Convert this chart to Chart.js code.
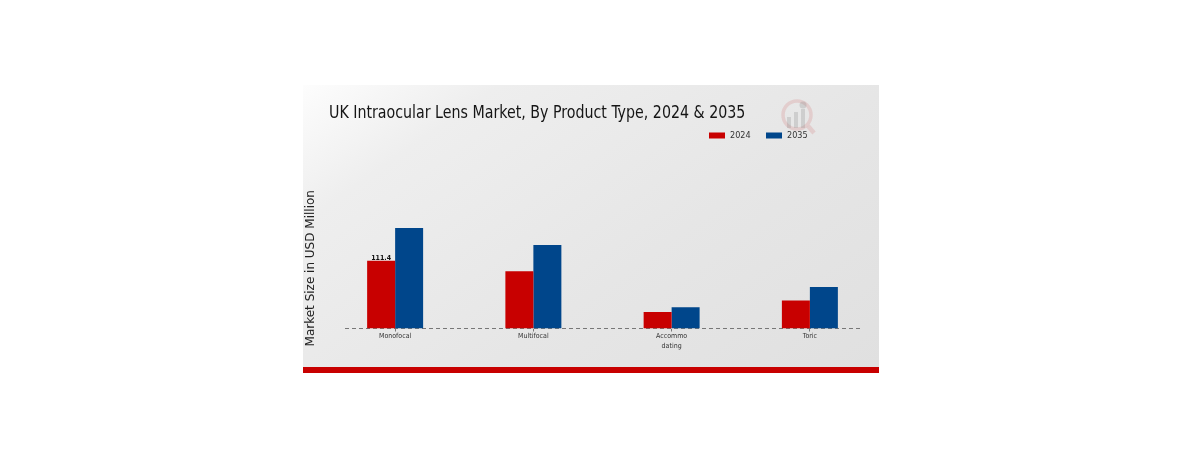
<!DOCTYPE html>
<html>
<head>
<meta charset="utf-8">
<title>UK Intraocular Lens Market</title>
<script src="https://cdn.jsdelivr.net/npm/chart.js@4"></script>
<style>
    html, body { margin: 0; padding: 0; background: #fff; }
    #panel {
        position: absolute; left: 303px; top: 85px; width: 576px; height: 282px;
        background: linear-gradient(145deg, #fdfdfd 0%, #eeeeee 20%, #e6e6e6 60%, #e0e0e0 100%);
        border-bottom: 6px solid #c80000;
    }
    #chart { display: block; filter: blur(0.5px); }
</style>
</head>
<body>
<div id="panel"><canvas id="chart" width="576" height="282"></canvas></div>
<script>
const categories = [['Monofocal'], ['Multifocal'], ['Accommo', 'dating'], ['Toric']];
const years = ['2024', '2035'];
const values2024 = [111.4, 94, 27, 46];
const values2035 = [165, 137, 35, 68];
const seriesColors = ['#c80000', '#00468b'];
const chartTitle = 'UK Intraocular Lens Market, By Product Type, 2024 & 2035';
const yTitle = 'Market Size in USD Million';
const condensed = '"DejaVu Sans Condensed", "DejaVu Sans", sans-serif';

// title, legend, logo and dashed baseline sit where the layout box would not put them
const extras = {
    id: 'extras',
    beforeDatasetsDraw(chart) {
        const ctx = chart.ctx;
        const y0 = chart.scales.y.getPixelForValue(0);

        // faint logo behind everything
        ctx.save();
        ctx.strokeStyle = 'rgba(200,60,60,0.15)';
        ctx.lineWidth = 3.5;
        ctx.beginPath();
        ctx.arc(494, 30, 14, 0, Math.PI * 2);
        ctx.stroke();
        ctx.lineWidth = 4.5;
        ctx.beginPath();
        ctx.moveTo(505, 41);
        ctx.lineTo(511, 48);
        ctx.stroke();
        ctx.fillStyle = 'rgba(130,130,130,0.25)';
        ctx.fillRect(484, 32, 4, 11);
        ctx.fillRect(491, 27, 4, 16);
        ctx.fillRect(498, 24, 4, 19);
        ctx.beginPath();
        ctx.arc(500, 20, 3.5, 0, Math.PI * 2);
        ctx.fill();
        ctx.restore();

        ctx.save();
        ctx.strokeStyle = '#777';
        ctx.lineWidth = 1;
        ctx.setLineDash([4, 3]);
        ctx.beginPath();
        ctx.moveTo(42, y0);
        ctx.lineTo(557, y0);
        ctx.stroke();
        ctx.restore();
    },
    afterDraw(chart) {
        const ctx = chart.ctx;
        ctx.save();
        ctx.textBaseline = 'middle';
        ctx.fillStyle = '#151515';
        ctx.font = '18px ' + condensed;
        // the reference title is squeezed sideways
        ctx.save();
        ctx.translate(26, 28);
        ctx.scale(0.878, 1);
        ctx.fillText(chartTitle, 0, 0);
        ctx.restore();

        ctx.font = '9px ' + condensed;
        const legendX = [406, 463];
        years.forEach((year, i) => {
            ctx.fillStyle = seriesColors[i];
            ctx.fillRect(legendX[i], 47.5, 16, 6);
            ctx.fillStyle = '#333';
            ctx.fillText(year, legendX[i] + 21, 51);
        });

        // only the first bar carries a value label
        const bar = chart.getDatasetMeta(0).data[0];
        ctx.fillStyle = '#111';
        ctx.font = 'bold 7px "DejaVu Sans Condensed", sans-serif';
        ctx.textAlign = 'center';
        ctx.textBaseline = 'bottom';
        ctx.fillText(String(values2024[0]), bar.x, bar.y + 0.5);
        ctx.restore();
    }
};

new Chart(document.getElementById('chart'), {
    type: 'bar',
    data: {
        labels: categories,
        datasets: [
            { label: years[0], data: values2024, backgroundColor: seriesColors[0] },
            { label: years[1], data: values2035, backgroundColor: seriesColors[1] }
        ]
    },
    options: {
        responsive: false,
        animation: false,
        layout: { padding: { left: 1, right: 0, top: 123, bottom: 0 } },
        datasets: { bar: { categoryPercentage: 0.405, barPercentage: 1 } },
        plugins: {
            legend: { display: false },
            title: { display: false },
            tooltip: { enabled: false }
        },
        scales: {
            x: {
                grid: { drawOnChartArea: false, offset: false, tickLength: 3, color: '#777' },
                border: { display: false },
                ticks: {
                    autoSkip: false,
                    maxRotation: 0,
                    padding: 0,
                    color: '#333',
                    font: { family: condensed, size: 7, lineHeight: 1.4 }
                },
                afterFit(scale) { scale.height = 38.5; }
            },
            y: {
                min: 0,
                max: 198,
                grid: { display: false },
                border: { display: false },
                ticks: { display: false },
                title: {
                    display: true,
                    text: yTitle,
                    color: '#222',
                    padding: 0,
                    font: { family: '"DejaVu Sans", sans-serif', size: 12 }
                },
                afterFit(scale) { scale.width = 22; }
            }
        }
    },
    plugins: [extras]
});
</script>
</body>
</html>
